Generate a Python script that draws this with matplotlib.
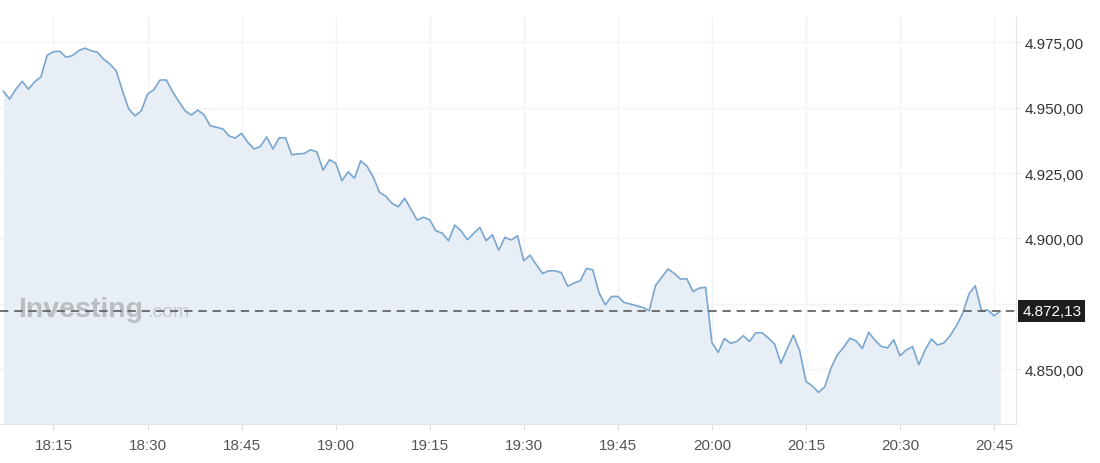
import matplotlib
matplotlib.use("Agg")
import matplotlib.pyplot as plt
import matplotlib.dates as mdates
import pandas as pd
from matplotlib.ticker import FuncFormatter

# one-minute closes, 18:07 -> 20:46
prices_1807 = [4956.3, 4953.3, 4957.1, 4960.1, 4957.1, 4959.9, 4961.8, 4970.1,
               4971.4, 4971.6, 4969.3, 4969.9, 4971.8, 4972.8, 4971.8, 4971.2,
               4968.6, 4966.7, 4964.1, 4956.5, 4949.5, 4946.9, 4948.8, 4955.2,
               4956.9, 4960.6, 4960.6, 4956.1, 4952.3, 4948.8, 4947.2, 4949.1]
prices_1839 = [4947.3, 4943.1, 4942.5, 4941.9, 4939.2, 4938.4, 4940.2, 4936.7,
               4934.2, 4935.2, 4938.8, 4934.2, 4938.5, 4938.5, 4932.0, 4932.3,
               4932.5, 4933.9, 4933.1, 4926.1, 4930.1, 4928.8, 4922.1, 4925.5,
               4923.0, 4929.7, 4927.6, 4923.4, 4917.6, 4916.1, 4913.4, 4912.1]
prices_1911 = [4915.4, 4911.2, 4907.0, 4908.1, 4907.1, 4902.9, 4902.0, 4899.1,
               4905.1, 4902.9, 4899.5, 4901.9, 4904.2, 4899.1, 4901.4, 4895.5,
               4900.4, 4899.4, 4901.0, 4891.4, 4893.6, 4889.9, 4886.6, 4887.6,
               4887.6, 4886.9, 4881.7, 4882.9, 4883.8, 4888.5, 4888.0, 4879.2]
prices_1943 = [4874.6, 4877.8, 4877.8, 4875.5, 4874.9, 4874.2, 4873.6, 4872.3,
               4881.9, 4885.1, 4888.3, 4886.6, 4884.4, 4884.6, 4879.6, 4881.0,
               4881.3, 4860.2, 4856.4, 4861.7, 4859.9, 4860.6, 4862.8, 4860.6,
               4863.9, 4863.9, 4861.9, 4859.6, 4852.2, 4857.7, 4863.0, 4857.0]
prices_2015 = [4845.3, 4843.6, 4841.1, 4843.2, 4850.4, 4855.4, 4858.3, 4861.8,
               4860.8, 4857.9, 4864.1, 4861.1, 4858.7, 4858.1, 4861.2, 4855.1,
               4857.3, 4858.6, 4851.7, 4857.3, 4861.5, 4859.2, 4860.0, 4862.8,
               4866.6, 4871.3, 4878.7, 4881.9, 4872.3, 4872.6, 4870.4, 4872.13]
prices = prices_1807 + prices_1839 + prices_1911 + prices_1943 + prices_2015
times = pd.date_range("2024-01-01 18:07", periods=len(prices), freq="1min")
last_price = 4872.13
y_ticks = [4850, 4875, 4900, 4925, 4950, 4975]


def eu_fmt(v):
    # 4975.0 -> "4.975,00"
    return f"{v:,.2f}".replace(',', 'X').replace('.', ',').replace('X', '.')


plt.rcParams['font.family'] = ['Liberation Sans', 'DejaVu Sans']

fig = plt.figure(figsize=(11, 4.64), dpi=100)
ax = fig.add_axes([0, 1 - 425 / 464, 1016 / 1100, 407 / 464])

line_col = '#79a6d0'
ax.fill_between(times, prices, 4800, color='#e8eef6', linewidth=0, zorder=1)
ax.plot(times, prices, color=line_col, linewidth=1.2, zorder=2)

# watermark
ax.text(0.018, 0.265, 'Investing', transform=ax.transAxes, fontsize=20.5,
        fontweight='bold', color='#b5b8bc', alpha=0.9, zorder=1.5)
ax.text(0.145, 0.265, '.com', transform=ax.transAxes, fontsize=14,
        color='#c3c5c9', alpha=0.9, zorder=1.5)

ax.axhline(last_price, color='#5a5a5a', linewidth=1.2, dashes=(5, 3.5), zorder=3)

t0 = times[0]
ax.set_xlim(t0 - pd.Timedelta(minutes=0.53), t0 + pd.Timedelta(minutes=161.5))
ax.set_ylim(4829.0, 4984.7)

ax.xaxis.set_major_locator(mdates.MinuteLocator(byminute=[0, 15, 30, 45]))
ax.xaxis.set_major_formatter(mdates.DateFormatter('%H:%M'))
ax.set_yticks(y_ticks)
ax.yaxis.set_major_formatter(FuncFormatter(lambda v, p: eu_fmt(v)))
ax.yaxis.tick_right()

ax.grid(True, color='#f2f3f5', linewidth=1, zorder=0)
ax.set_axisbelow(True)
for s in ['top', 'left']:
    ax.spines[s].set_visible(False)
ax.spines['right'].set_color('#e3e5e8')
ax.spines['bottom'].set_color('#e3e5e8')
ax.tick_params(axis='x', length=4, color='#dcdfe3', pad=6, labelsize=11,
               labelcolor='#555555')
ax.tick_params(axis='y', length=3, color='#dcdfe3', pad=3, labelsize=11,
               labelcolor='#333333')

# current price tag, drawn over the 4.875,00 label like the original
ax.annotate(eu_fmt(last_price),
            xy=(1.0, last_price), xycoords=('axes fraction', 'data'),
            xytext=(4.5, 0), textcoords='offset points', ha='left', va='center',
            fontsize=11, color='white', zorder=5, annotation_clip=False,
            bbox=dict(boxstyle='square,pad=0.25', fc='#1e1e1e', ec='none'))

fig.savefig('out.png', dpi=100, facecolor='white')
